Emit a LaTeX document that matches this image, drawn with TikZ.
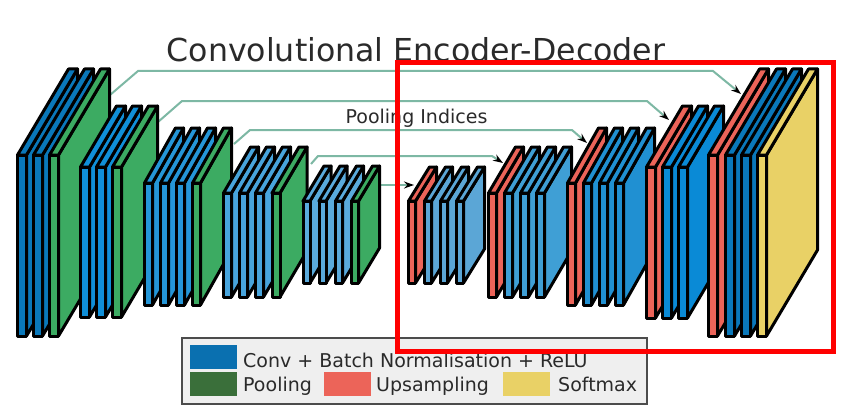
\documentclass[tikz,border=0pt]{standalone}
\usepackage{fontspec}
\setmainfont{DejaVu Sans}
\usetikzlibrary{arrows.meta}
\definecolor{bA}{HTML}{0A78BA}
\definecolor{bB}{HTML}{108FD8}
\definecolor{bC}{HTML}{2596D8}
\definecolor{bD}{HTML}{48A4DC}
\definecolor{bE}{HTML}{5AAADC}
\definecolor{dA}{HTML}{5BA6D6}
\definecolor{dB}{HTML}{3F9FD5}
\definecolor{dC}{HTML}{2090D2}
\definecolor{dD}{HTML}{0A8AD6}
\definecolor{gn}{HTML}{3CAB62}
\definecolor{rd}{HTML}{EC6459}
\definecolor{yl}{HTML}{E9D166}
\definecolor{teal}{HTML}{7DB8A4}
\definecolor{txt}{HTML}{2A2A2A}
\definecolor{lgbg}{HTML}{EFEFEF}
\definecolor{lgblue}{HTML}{0A70B0}
\definecolor{lggreen}{HTML}{3A6F3A}
\newcommand{\slabblock}[6]{% top,bot,dx,dy,w,list
  \foreach \sx/\sc in {#6}{
    \filldraw[slabline,fill=\sc] (\sx+#5,#1) -- ++(#3,#4) -- ++(0,#2-#1) -- (\sx+#5,#2) -- cycle;
    \filldraw[slabline,fill=\sc] (\sx,#1) -- ++(#3,#4) -- ++(#5,0) -- (\sx+#5,#1) -- cycle;
    \filldraw[slabline,fill=\sc] (\sx,#1) rectangle (\sx+#5,#2);
  }}
\tikzset{
  slabline/.style={draw=black,line width=3pt,line join=round},
  link/.style={draw=teal,line width=2pt},
  linkarrow/.style={link,-{Stealth[length=10pt,width=7pt,black]}},
  title/.style={font=\fontsize{31.6}{36}\selectfont,text=txt,inner sep=0pt},
  lbl/.style={font=\fontsize{19}{23}\selectfont,text=txt,inner sep=0pt},
  swatch/.style={draw=none,minimum width=47pt,minimum height=24pt,inner sep=0pt},
  frame/.style={draw=red,line width=5pt},
}
\begin{document}
\begin{tikzpicture}[x=1pt,y=-1pt]
\useasboundingbox[fill=white] (0,0) rectangle (843,420);
\node[title] (ttl) at (416,50) {Convolutional Encoder-Decoder};
% connectors
\coordinate (a1) at (110,95);\coordinate (a2) at (138,71);\coordinate (a3) at (713,71);\coordinate (a4) at (741,94);
\coordinate (b1) at (158,122);\coordinate (b2) at (182,101);\coordinate (b3) at (647,101);\coordinate (b4) at (669,120);
\coordinate (c1) at (234,144);\coordinate (c2) at (250,130);\coordinate (c3) at (572,130);\coordinate (c4) at (587,143);
\coordinate (d1) at (311,164);\coordinate (d2) at (318,156);\coordinate (d3) at (492,156);\coordinate (d4) at (503,163);
\coordinate (e1) at (378,185);\coordinate (e2) at (414,185);
\draw[linkarrow] (a1) -- (a2) -- (a3) -- (a4);
\draw[linkarrow] (b1) -- (b2) -- (b3) -- (b4);
\draw[linkarrow] (c1) -- (c2) -- (c3) -- (c4);
\draw[linkarrow] (d1) -- (d2) -- (d3) -- (d4);
\draw[linkarrow] (e1) -- (e2);
\node[lbl] (pi) at (416.5,118) {Pooling Indices};
% encoder
\slabblock{155}{336}{51}{-86}{9}{17.5/bA,33.5/bA,49.5/gn}
\slabblock{167}{317}{36}{-61}{9}{80.5/bB,96.5/bB,112.5/gn}
\slabblock{183}{305}{31}{-55}{8}{144.5/bC,160.5/bC,176.5/bC,192.5/gn}
\slabblock{193}{297}{27}{-46}{8}{223.5/bD,239.5/bD,255.5/bD,272/gn}
\slabblock{201}{283}{21}{-35}{7}{303/bE,319/bE,335.5/bE,351.5/gn}
% decoder
\slabblock{201}{283}{21}{-34}{7}{408.5/rd,424.5/dA,440.5/dA,456.5/dA}
\slabblock{193}{297}{27}{-46}{8}{488.5/rd,504.5/dB,520.5/dB,536.5/dB}
\slabblock{183}{305}{31}{-55}{8}{567.5/rd,583.5/dC,599.5/dC,615.5/dC}
\slabblock{167}{318}{36}{-61}{9}{646.5/rd,662.5/dD,678.5/dD}
\slabblock{155}{336}{51}{-86}{9}{708.5/rd,725.5/bA,741.5/bA,757.5/yl}
% legend
\node[draw=black!70,line width=1.5pt,fill=lgbg,minimum width=465pt,minimum height=66pt,inner sep=0pt] (lg) at (414.5,371) {};
\node[swatch,fill=lgblue] (s1) at (213.5,357) {};
\node[swatch,fill=lggreen] (s2) at (213.5,384) {};
\node[swatch,fill=rd] (s3) at (347,384) {};
\node[swatch,fill=yl] (s4) at (526,384) {};
\node[lbl,anchor=base west] (l1) at (243,367) {Conv + Batch Normalisation + ReLU};
\node[lbl,anchor=base west] (l2) at (243,391) {Pooling};
\node[lbl,anchor=base west] (l3) at (376,391) {Upsampling};
\node[lbl,anchor=base west] (l4) at (558,391) {Softmax};
% highlight
\draw[frame] (397.5,62.5) rectangle (833.5,351.5);
\end{tikzpicture}
\end{document}
